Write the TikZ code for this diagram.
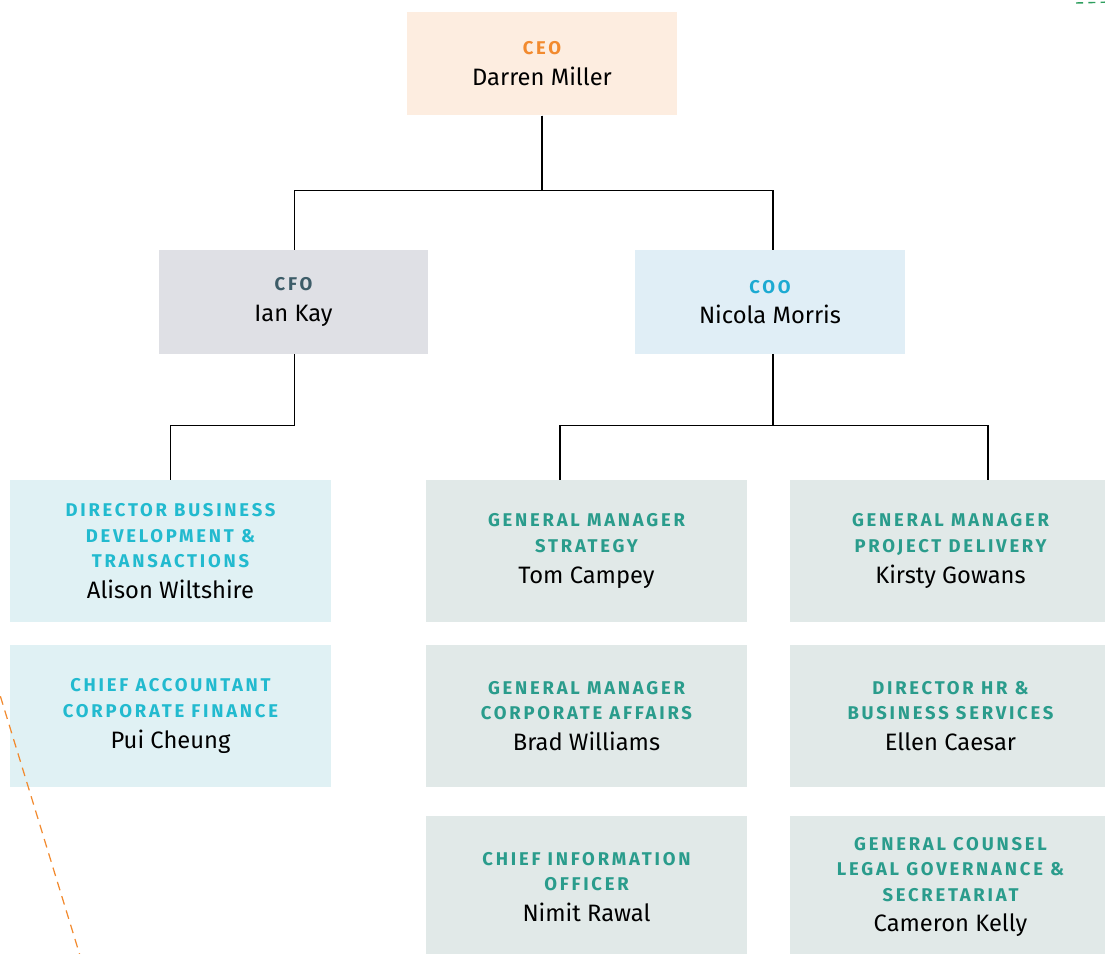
\documentclass[tikz,border=0pt]{standalone}
\usepackage{fontspec}
\setmainfont{Fira Sans}
\newfontfamily\rolefamily[LetterSpace=15]{Fira Sans}
\newcommand{\rolefont}{\rolefamily\bfseries\fontsize{10.5}{13}\selectfont}
\newcommand{\namefont}{\fontsize{13.5}{14.5}\selectfont}

\definecolor{ceofill}{HTML}{FDEDE0}
\definecolor{ceotext}{HTML}{F28A2E}
\definecolor{cfofill}{HTML}{DFE0E5}
\definecolor{cfotext}{HTML}{3D5C68}
\definecolor{coofill}{HTML}{E0EEF6}
\definecolor{cootext}{HTML}{1CAAD2}
\definecolor{bluefill}{HTML}{E0F1F4}
\definecolor{bluetext}{HTML}{22BACF}
\definecolor{tealfill}{HTML}{E1E9E8}
\definecolor{tealtext}{HTML}{2A9C8C}
\definecolor{dashorange}{HTML}{F28A2E}
\definecolor{dashgreen}{HTML}{2E9E5E}

\newcommand{\role}[2]{{\rolefont\color{#1}#2}}

\tikzset{
  box/.style={inner sep=0pt, align=center, font=\namefont, text=black},
  topbox/.style={box, minimum width=5.4cm, minimum height=2.07cm},
  lowbox/.style={box, minimum width=6.42cm, minimum height=2.84cm},
  link/.style={draw=black, line width=0.6pt}
}

\begin{document}
\begin{tikzpicture}[x=0.02cm, y=-0.02cm]
      \useasboundingbox (0,0) rectangle (1105,953);
      % top levels
      \node[topbox, fill=ceofill] at (542,63.5) (ceo) {\role{ceotext}{CEO}\\[3pt]Darren Miller};
      \node[topbox, fill=cfofill] at (293.5,302) (cfo) {\role{cfotext}{CFO}\\[3pt]Ian Kay};
      \node[topbox, fill=coofill] at (770,302) (coo) {\role{cootext}{COO}\\[3pt]Nicola Morris};
      % finance side
      \node[lowbox, fill=bluefill] at (170.5,551) (bizdev) {\role{bluetext}{DIRECTOR BUSINESS}\\\role{bluetext}{DEVELOPMENT \&}\\\role{bluetext}{TRANSACTIONS}\\[3pt]Alison Wiltshire};
      \node[lowbox, fill=bluefill] at (170.5,716) (acct) {\role{bluetext}{CHIEF ACCOUNTANT}\\\role{bluetext}{CORPORATE FINANCE}\\[3pt]Pui Cheung};
      % operations side
      \node[lowbox, fill=tealfill] at (586.5,551) (strategy) {\role{tealtext}{GENERAL MANAGER}\\\role{tealtext}{STRATEGY}\\[3pt]Tom Campey};
      \node[lowbox, fill=tealfill] at (950.5,551) (delivery) {\role{tealtext}{GENERAL MANAGER}\\\role{tealtext}{PROJECT DELIVERY}\\[3pt]Kirsty Gowans};
      \node[lowbox, fill=tealfill] at (586.5,716) (affairs) {\role{tealtext}{GENERAL MANAGER}\\\role{tealtext}{CORPORATE AFFAIRS}\\[3pt]Brad Williams};
      \node[lowbox, fill=tealfill] at (950.5,716) (hr) {\role{tealtext}{DIRECTOR HR \&}\\\role{tealtext}{BUSINESS SERVICES}\\[3pt]Ellen Caesar};
      \node[lowbox, fill=tealfill] at (586.5,887) (cio) {\role{tealtext}{CHIEF INFORMATION}\\\role{tealtext}{OFFICER}\\[3pt]Nimit Rawal};
      \node[lowbox, fill=tealfill] at (950.5,887) (counsel) {\role{tealtext}{GENERAL COUNSEL}\\\role{tealtext}{LEGAL GOVERNANCE \&}\\\role{tealtext}{SECRETARIAT}\\[3pt]Cameron Kelly};
      % reporting lines
      \draw[link] (ceo.south) -- ++(0,75) -| ([xshift=0.02cm]cfo.north);
      \draw[link] (ceo.south) -- ++(0,75) -| ([xshift=0.06cm]coo.north);
      \draw[link] ([xshift=0.02cm]cfo.south) -- ++(0,71) -| (bizdev.north);
      \draw[link] ([xshift=0.06cm]coo.south) -- ++(0,71) -| ([xshift=-0.53cm]strategy.north);
      \draw[link] ([xshift=0.06cm]coo.south) -- ++(0,71) -| ([xshift=0.75cm]delivery.north);
      % cut-off marks
      \draw[dashorange, line width=0.7pt, dash pattern=on 5pt off 3.5pt] (-4,682) -- (82,962);
      \draw[dashgreen, line width=0.8pt, dash pattern=on 4pt off 3pt] (1076,3) -- (1112,2);
    \end{tikzpicture}
\end{document}
